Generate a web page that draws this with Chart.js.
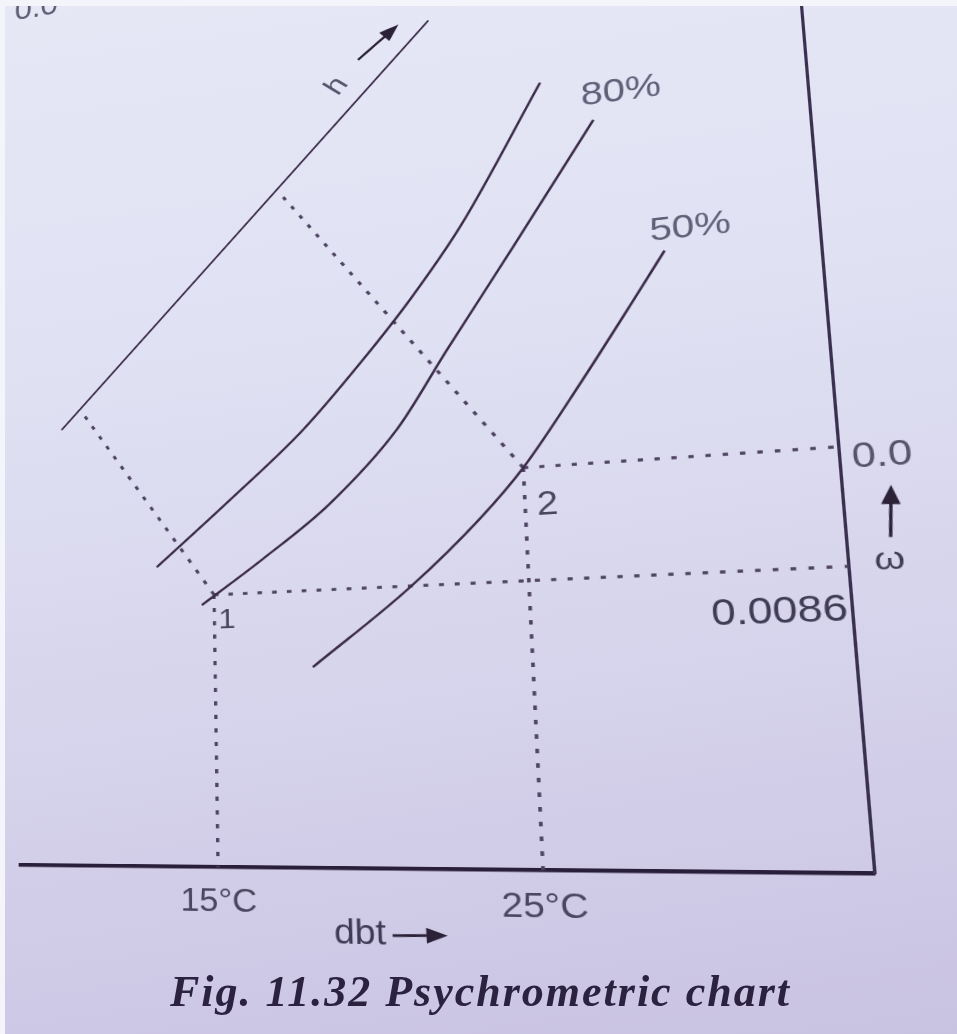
<!DOCTYPE html>
<html>
<head>
<meta charset="utf-8">
<title>Psychrometric chart</title>
<script src="https://cdn.jsdelivr.net/npm/chart.js@4.4.1/dist/chart.umd.min.js"></script>
<style>
  html, body { margin: 0; padding: 0; }
  body {
    width: 957px; height: 1034px; overflow: hidden; position: relative;
    background: linear-gradient(172deg, #e6e8f6 0%, #dfe0f2 35%, #d6d3ec 65%, #c9c3e2 100%);
  }
  #chart { position: absolute; left: 0; top: 0; transform-origin: 0 0; }
  #caption {
    position: absolute; left: 170px; top: 966px; white-space: nowrap; letter-spacing: 2px;
    font: italic bold 44px "Liberation Serif", serif; color: #2b2240;
  }
  .edge { position: absolute; background: #f4f5fb; z-index: 5; }
</style>
</head>
<body>
<canvas id="chart" width="957" height="1300"></canvas>
<div id="caption">Fig. 11.32 Psychrometric chart</div>
<div class="edge" style="left:0;top:0;width:957px;height:6px"></div>
<div class="edge" style="left:0;top:0;width:5px;height:1034px"></div>
<script>
// ---- values ----
const tickDbt = [15, 25];               // dbt ticks, degC
const stateDbt = [15, 25];              // state points 1 and 2
const stateOmega = [0.0086, 0.0121];    // specific humidity, kg/kg
const omegaLabels = ['0.0086', '0.0'];

const hLineDbt = [9.67, 22.65];         // constant enthalpy line
const hLineOmega = [0.01446, 0.02726];
const hFootDbt = [10.33, 17.42];        // where the dotted lines from 1 and 2 meet the h line
const hFootOmega = [0.01514, 0.02203];

const satDbt = [13.05, 15.58, 18.08, 20.11, 21.71, 23.41, 26.12];
const satOmega = [0.00959, 0.01167, 0.01382, 0.01597, 0.01783, 0.02009, 0.02456];
const rh80Dbt = [14.58, 16.65, 18.9, 21.13, 22.82, 25.04, 27.69];
const rh80Omega = [0.00828, 0.00968, 0.01135, 0.0136, 0.01606, 0.01923, 0.02307];
const rh50Dbt = [18.21, 21.37, 23.62, 25.0, 26.86, 28.58, 29.56];
const rh50Omega = [0.00617, 0.00856, 0.0106, 0.0121, 0.01464, 0.01712, 0.01856];

const dbtMin = 8.25, dbtMax = 34;       // ends of the dbt axis
const omegaMax = 0.0264;

const lineColor = '#3b2b49';
const textColor = '#4a4660';

function pts(xs, ys) {
  return xs.map((x, i) => ({ x: x, y: ys[i] }));
}

// solid curve dataset
function curve(label, xs, ys, width) {
  return {
    label: label, data: pts(xs, ys), showLine: true, pointRadius: 0,
    borderColor: lineColor, borderWidth: width, tension: 0.4,
    cubicInterpolationMode: 'monotone', clip: false
  };
}

// dotted construction line between two points
function dotted(label, x1, y1, x2, y2) {
  return {
    label: label, data: [{ x: x1, y: y1 }, { x: x2, y: y2 }], showLine: true, pointRadius: 0,
    borderColor: '#4d4262', borderWidth: 3.5, borderDash: [5, 11], clip: false
  };
}

// text and arrows placed in chart (data) units
const notes = [
  { text: '80%', x: 28.56, y: 0.02389, size: 40, color: '#605f78' },
  { text: '50%', x: 30.34, y: 0.01921, size: 39, color: '#605f78' },
  { text: 'h', x: 19.53, y: 0.02543, size: 35, color: '#55536b', rot: -48 },
  { text: '1', x: 15.42, y: 0.00776, size: 34, color: textColor },
  { text: '2', x: 25.67, y: 0.01089, size: 38, color: textColor },
  { text: omegaLabels[1], x: 35.14, y: 0.01173, size: 38, color: '#56546c' },
  { text: omegaLabels[0], x: 32.04, y: 0.00733, size: 40, color: '#3f3b55' },
  { text: 'ω', x: 35.1, y: 0.00872, size: 34, color: '#3f3b55' },
  { text: 'dbt', x: 19.46, y: -0.00195, size: 38, color: '#3f3b55' },
  { text: '0.0', x: 8.66, y: 0.0300, size: 40, color: '#605f78' }
];
const arrows = [
  { from: [20.27, 0.02625], to: [21.66, 0.02728] },
  { from: [35.18, 0.00938], to: [35.31, 0.01089] },
  { from: [20.46, -0.00196], to: [22.12, -0.00193] }
];

const notesPlugin = {
  id: 'notes',
  afterDatasetsDraw(chart) {
    const { ctx, scales } = chart;
    ctx.save();
    notes.forEach(n => {
      const px = scales.x.getPixelForValue(n.x);
      const py = scales.y.getPixelForValue(n.y);
      ctx.save();
      ctx.translate(px, py);
      if (n.rot) ctx.rotate(n.rot * Math.PI / 180);
      ctx.font = n.size + 'px "Liberation Sans", Arial, sans-serif';
      ctx.fillStyle = n.color;
      ctx.textAlign = 'center';
      ctx.textBaseline = 'middle';
      ctx.fillText(n.text, 0, 0);
      ctx.restore();
    });
    arrows.forEach(a => {
      const x1 = scales.x.getPixelForValue(a.from[0]), y1 = scales.y.getPixelForValue(a.from[1]);
      const x2 = scales.x.getPixelForValue(a.to[0]), y2 = scales.y.getPixelForValue(a.to[1]);
      const ang = Math.atan2(y2 - y1, x2 - x1);
      const len = 21, half = 8.5;
      ctx.strokeStyle = '#2c2238';
      ctx.fillStyle = '#2c2238';
      ctx.lineWidth = 3;
      ctx.beginPath();
      ctx.moveTo(x1, y1);
      ctx.lineTo(x2 - 14 * Math.cos(ang), y2 - 14 * Math.sin(ang));
      ctx.stroke();
      ctx.beginPath();
      ctx.moveTo(x2, y2);
      ctx.lineTo(x2 - len * Math.cos(ang) + half * Math.sin(ang), y2 - len * Math.sin(ang) - half * Math.cos(ang));
      ctx.lineTo(x2 - len * Math.cos(ang) - half * Math.sin(ang), y2 - len * Math.sin(ang) + half * Math.cos(ang));
      ctx.closePath();
      ctx.fill();
    });
    ctx.restore();
  }
};

const canvas = document.getElementById('chart');
const chart = new Chart(canvas, {
  type: 'scatter',
  data: {
    datasets: [
      curve('h', hLineDbt, hLineOmega, 2.2),
      curve('100%', satDbt, satOmega, 2.7),
      curve('80%', rh80Dbt, rh80Omega, 2.7),
      curve('50%', rh50Dbt, rh50Omega, 2.7),
      dotted('1-h', stateDbt[0], stateOmega[0], hFootDbt[0], hFootOmega[0]),
      dotted('2-h', stateDbt[1], stateOmega[1], hFootDbt[1], hFootOmega[1]),
      dotted('1-w', stateDbt[0], stateOmega[0], dbtMax, stateOmega[0]),
      dotted('2-w', stateDbt[1], stateOmega[1], dbtMax, stateOmega[1]),
      dotted('1-dbt', stateDbt[0], stateOmega[0], stateDbt[0], 0),
      dotted('2-dbt', stateDbt[1], stateOmega[1], stateDbt[1], 0)
    ]
  },
  options: {
    responsive: false,
    animation: false,
    layout: { padding: { left: 20, right: 79, top: 200, bottom: 40 } },
    plugins: { legend: { display: false }, tooltip: { enabled: false } },
    scales: {
      x: {
        type: 'linear', min: dbtMin, max: dbtMax,
        grid: { display: false },
        border: { display: true, color: '#2a1f3a', width: 4.5 },
        afterBuildTicks: axis => { axis.ticks = tickDbt.map(v => ({ value: v })); },
        ticks: {
          padding: 10, color: textColor, maxRotation: 0, autoSkip: false,
          font: { family: '"Liberation Sans", Arial, sans-serif', size: 37 },
          callback: v => v + '°C'
        }
      },
      y: {
        type: 'linear', position: 'right', min: 0, max: omegaMax,
        grid: { display: false },
        border: { display: true, color: '#3a3050', width: 3 },
        ticks: { display: false }
      }
    }
  },
  plugins: [notesPlugin]
});

// ---- photo perspective: map the flat chart onto the skewed page ----
function solveLinear(A, b) {
  const n = b.length;
  const M = A.map((row, i) => row.concat([b[i]]));
  for (let c = 0; c < n; c++) {
    let p = c;
    for (let r = c + 1; r < n; r++) if (Math.abs(M[r][c]) > Math.abs(M[p][c])) p = r;
    [M[c], M[p]] = [M[p], M[c]];
    for (let r = 0; r < n; r++) {
      if (r === c) continue;
      const f = M[r][c] / M[c][c];
      for (let k = c; k <= n; k++) M[r][k] -= f * M[c][k];
    }
  }
  return M.map((row, i) => row[n] / row[i]);
}

// least squares fit of a plane homography, src -> dst
function fitHomography(src, dst) {
  const A = [], b = [];
  src.forEach(([x, y], i) => {
    const [u, v] = dst[i];
    A.push([x, y, 1, 0, 0, 0, -u * x, -u * y]); b.push(u);
    A.push([0, 0, 0, x, y, 1, -v * x, -v * y]); b.push(v);
  });
  const N = [], r = [];
  for (let i = 0; i < 8; i++) {
    N.push([]);
    r.push(A.reduce((s, row, k) => s + row[i] * b[k], 0));
    for (let j = 0; j < 8; j++) N[i].push(A.reduce((s, row) => s + row[i] * row[j], 0));
  }
  return solveLinear(N, r).concat([1]);
}

const sx = v => chart.scales.x.getPixelForValue(v);
const sy = v => chart.scales.y.getPixelForValue(v);
// chart values and where the photographed page shows them
const anchorData = [[15, 0], [25, 0], [34, 0], [15, 0.0086], [25, 0.0086], [34, 0.0086], [25, 0.012], [34, 0.012]];
const anchorPage = [[218, 869], [543, 873], [875, 868], [217, 593], [523, 582], [850, 570], [523, 467], [840, 452]];
const H = fitHomography(anchorData.map(([d, w]) => [sx(d), sy(w)]), anchorPage);
canvas.style.transform = 'matrix3d(' + [H[0], H[3], 0, H[6], H[1], H[4], 0, H[7], 0, 0, 1, 0, H[2], H[5], 0, H[8]].join(',') + ')';
</script>
</body>
</html>
